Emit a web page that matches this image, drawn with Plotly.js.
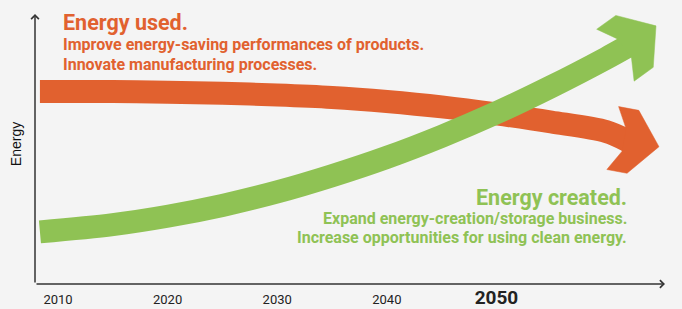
<!DOCTYPE html>
<html><head><meta charset="utf-8">
<script src="https://cdn.plot.ly/plotly-3.0.1.min.js"></script>
<style>html,body{margin:0;padding:0;background:#f4f4f4;}</style>
</head><body>
<div id="chart" style="width:682px;height:309px"></div>
<script>
// ---- data ----
const tickYears = [2010, 2020, 2030, 2040, 2050];
const tickLabels = ['2010', '2020', '2030', '2040', '<span style="font-size:19px;font-weight:bold">2050</span>'];

// Energy used (last point = arrow tip)
const usedYears  = [2008.35, 2015, 2020, 2025, 2030, 2035, 2040, 2045, 2050, 2055, 2060, 2062.0, 2064.83];
const usedValues = [71.3, 71.3, 71.0, 70.6, 70.0, 69.1, 67.6, 65.6, 63.0, 60.0, 56.5, 53.0, 50.85];

// Energy created (last point = arrow tip)
const createdYears  = [2008.35, 2015, 2020, 2025, 2030, 2035, 2040, 2045, 2050, 2055, 2060, 2062.0, 2064.56];
const createdValues = [19.3, 22.0, 25.1, 29.1, 34.1, 40.1, 46.9, 54.7, 63.4, 73.1, 83.6, 88.1, 95.6];

const usedTitle = 'Energy used.';
const usedLines = ['Improve energy-saving performances of products.', 'Innovate manufacturing processes.'];
const createdTitle = 'Energy created.';
const createdLines = ['Expand energy-creation/storage business.', 'Increase opportunities for using clean energy.'];
const yTitle = 'Energy';

// ---- styling ----
const ORANGE = '#e1612f', GREEN = '#8fc254', BG = '#f4f4f4', AXIS = '#333333';
const W = 682, H = 309, M = {l: 35, r: 17, t: 4, b: 25};
const xRange = [2007.9, 2065.38], yRange = [0, 103.7];
const pw = W - M.l - M.r, ph = H - M.t - M.b;

function toPx(x, y) {
  return [(x - xRange[0]) / (xRange[1] - xRange[0]) * pw, (y - yRange[0]) / (yRange[1] - yRange[0]) * ph];
}
function toData(px, py) {
  return [xRange[0] + px / pw * (xRange[1] - xRange[0]), yRange[0] + py / ph * (yRange[1] - yRange[0])];
}
function arrowHead(xs, ys) {
  const n = xs.length;
  const c = toPx(xs[n - 2], ys[n - 2]), t = toPx(xs[n - 1], ys[n - 1]);
  const dx = t[0] - c[0], dy = t[1] - c[1], L = Math.hypot(dx, dy);
  const u = [dx / L, dy / L], v = [-u[1], u[0]];
  const local = [[-4, 11.5], [-15.5, 32], [L - 26.5, 32], [L, 0], [L - 26.5, -32], [-15.5, -32], [-4, -11.5], [-4, 11.5]];
  const hx = [], hy = [];
  local.forEach(([a, b]) => {
    const d = toData(c[0] + a * u[0] + b * v[0], c[1] + a * u[1] + b * v[1]);
    hx.push(d[0]); hy.push(d[1]);
  });
  return {x: hx, y: hy};
}

function shaft(xs, ys, color) {
  return {x: xs.slice(0, -1), y: ys.slice(0, -1), mode: 'lines', type: 'scatter',
    line: {color: color, width: 23, shape: 'spline', smoothing: 0.9}, hoverinfo: 'skip', showlegend: false};
}
function headTrace(xs, ys, color) {
  const h = arrowHead(xs, ys);
  return {x: h.x, y: h.y, mode: 'lines', type: 'scatter', fill: 'toself', fillcolor: color,
    line: {color: color, width: 0.5}, hoverinfo: 'skip', showlegend: false};
}

const traces = [
  shaft(usedYears, usedValues, ORANGE), headTrace(usedYears, usedValues, ORANGE),
  shaft(createdYears, createdValues, GREEN), headTrace(createdYears, createdValues, GREEN)
];

function px2paper(x, y) { return [(x - M.l) / pw, (H - M.b - y) / ph]; }
function label(text, x, y, size, color, anchor) {
  const p = px2paper(x, y);
  return {text: '<b>' + text + '</b>', x: p[0], y: p[1], xref: 'paper', yref: 'paper',
    xanchor: anchor, yanchor: 'middle', showarrow: false,
    font: {family: 'Roboto, "Open Sans", sans-serif', size: size, color: color}};
}

const annotations = [
  // axis arrows
  {x: xRange[1], y: 0, ax: xRange[0], ay: 0, xref: 'x', yref: 'y', axref: 'x', ayref: 'y',
   text: '', showarrow: true, arrowhead: 4, arrowsize: 1, arrowwidth: 1.5, arrowcolor: AXIS},
  {x: xRange[0], y: 100, ax: xRange[0], ay: 0, xref: 'x', yref: 'y', axref: 'x', ayref: 'y',
   text: '', showarrow: true, arrowhead: 4, arrowsize: 1, arrowwidth: 1.5, arrowcolor: AXIS},
  label(usedTitle, 61, 22.5, 21.5, ORANGE, 'left'),
  label(usedLines[0], 61, 44.7, 16, ORANGE, 'left'),
  label(usedLines[1], 61, 64.7, 16, ORANGE, 'left'),
  label(createdTitle, 629, 197, 21.5, GREEN, 'right'),
  label(createdLines[0], 629, 218, 16, GREEN, 'right'),
  label(createdLines[1], 629, 237.5, 16, GREEN, 'right')
];

const layout = {
  width: W, height: H, margin: M, paper_bgcolor: BG, plot_bgcolor: BG, showlegend: false,
  xaxis: {range: xRange, showgrid: false, zeroline: false, showline: false, ticks: '',
    tickvals: tickYears, ticktext: tickLabels, ticklabelstandoff: 6,
    tickfont: {family: 'Roboto, sans-serif', size: 13, color: '#222'}, fixedrange: true},
  yaxis: {range: yRange, showgrid: false, zeroline: false, showline: false, showticklabels: false, ticks: '',
    title: {text: yTitle, standoff: 9, font: {family: '"Liberation Sans", Arial, sans-serif', size: 14, color: '#111'}},
    fixedrange: true},
  annotations: annotations
};

Plotly.newPlot('chart', traces, layout, {displayModeBar: false, staticPlot: true});
</script>
</body></html>
